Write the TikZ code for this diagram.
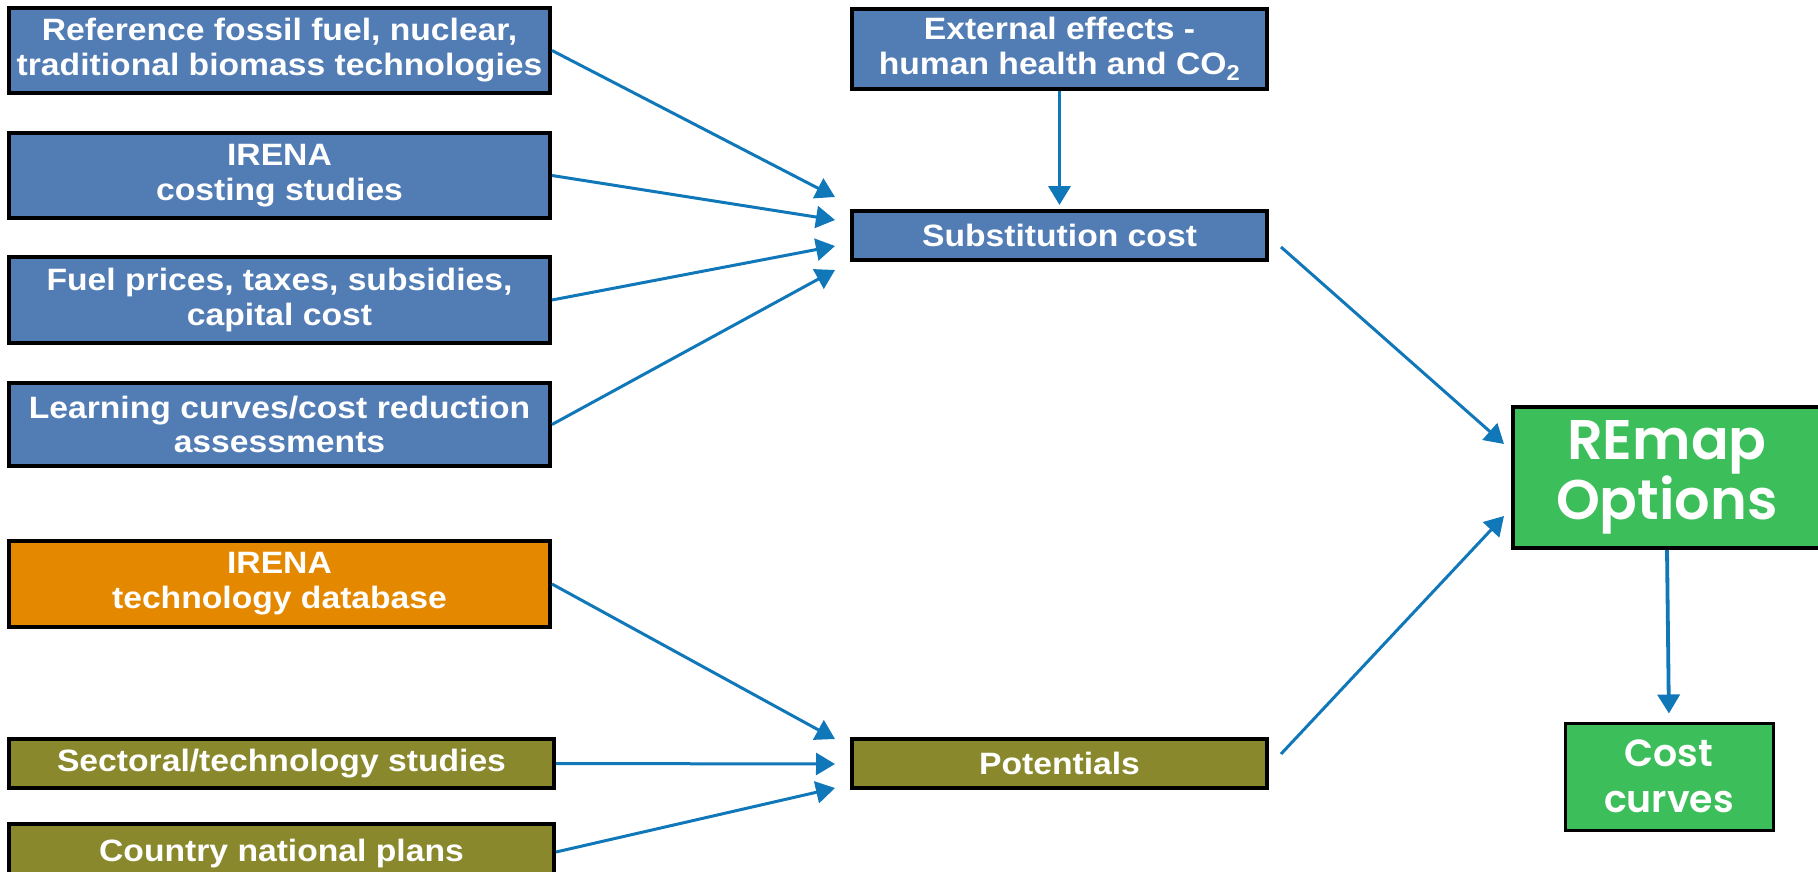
\documentclass[tikz,border=0pt]{standalone}
\usepackage{fontspec}
\setmainfont{Liberation Sans}[FakeStretch=1.09]
\newfontfamily\popfont{Poppins SemiBold}
\usetikzlibrary{arrows.meta,calc}
\definecolor{boxblue}{RGB}{82,124,180}
\definecolor{boxorange}{RGB}{228,136,0}
\definecolor{boxolive}{RGB}{137,136,44}
\definecolor{boxgreen}{RGB}{60,190,90}
\definecolor{arrowblue}{RGB}{16,119,185}
\begin{document}
\begin{tikzpicture}[x=1bp,y=-1bp,
  basebox/.style={draw=black,line width=4bp,text=white,align=center,inner sep=0pt,
    font=\fontsize{31}{35}\selectfont\bfseries},
  bluebox/.style={basebox,fill=boxblue},
  orangebox/.style={basebox,fill=boxorange},
  olivebox/.style={basebox,fill=boxolive},
  greenbox/.style={basebox,fill=boxgreen},
  arr/.style={draw=arrowblue,line width=3bp,-{Triangle[length=19bp,width=22bp]}}]
\useasboundingbox (0,0) rectangle (1818,872);
\clip (0,0) rectangle (1818,872);
% left column
\node[bluebox,minimum width=541bp,minimum height=85bp] (ref) at (279.5,50.5) {Reference fossil fuel, nuclear,\\traditional biomass technologies};
\node[bluebox,minimum width=541bp,minimum height=85bp] (costing) at (279.5,175.5) {IRENA\\costing studies};
\node[bluebox,minimum width=541bp,minimum height=86bp] (fuel) at (279.5,300) {Fuel prices, taxes, subsidies,\\capital cost};
\node[bluebox,minimum width=541bp,minimum height=83bp] (learn) at (279.5,424.5) {Learning curves/cost reduction\\assessments};
\node[orangebox,minimum width=541bp,minimum height=86bp] (techdb) at (279.5,584) {IRENA\\technology database};
\node[olivebox,minimum width=545bp,minimum height=49bp] (sect) at (281.5,763.5) {Sectoral/technology studies};
\node[olivebox,minimum width=545bp,minimum height=60bp] (ctry) at (281.5,854) {Country national plans};
% middle column
\node[bluebox,minimum width=415bp,minimum height=80bp] (ext) at (1059.5,49) {External effects -\\human health and CO\textsubscript{2}};
\node[bluebox,minimum width=415bp,minimum height=49bp] (sub) at (1059.5,235.5) {Substitution cost};
\node[olivebox,minimum width=415bp,minimum height=49bp] (pot) at (1059.5,763.5) {Potentials};
% right column
\node[greenbox,minimum width=308bp,minimum height=141bp,font=\popfont\fontsize{56}{55}\selectfont] (remap) at (1667,477.5) {REmap\\Options};
\node[greenbox,line width=3bp,minimum width=208bp,minimum height=107bp,font=\popfont\fontsize{38}{46}\selectfont] (curves) at (1669,776.5) {Cost\\curves};
% arrow tip coordinates
\coordinate (s1) at (835,197);
\coordinate (s2) at (835,220);
\coordinate (s3) at (835,246);
\coordinate (s4) at (835,270);
\coordinate (p1) at (835,739);
\coordinate (p2) at (835,764);
\coordinate (p3) at (835,788);
\coordinate (subout) at (1281,247);
\coordinate (r1) at (1504,444);
\coordinate (potout) at (1281,754);
\coordinate (r2) at (1504,516);
% connectors
\draw[arr] (ref.east) -- (s1);
\draw[arr] (costing.east) -- (s2);
\draw[arr] (fuel.east) -- (s3);
\draw[arr] (learn.east) -- (s4);
\draw[arr,line width=3.8bp,shorten >=4bp] (ext.south) -- (sub.north);
\draw[arr] (techdb.east) -- (p1);
\draw[arr] (sect.east) -- (p2);
\draw[arr] ($(ctry.east)+(0,-2)$) -- (p3);
\draw[arr] (subout) -- (r1);
\draw[arr] (potout) -- (r2);
\draw[arr,line width=3.8bp,shorten >=8bp] (remap.south) -- (curves.north);
\end{tikzpicture}
\end{document}
